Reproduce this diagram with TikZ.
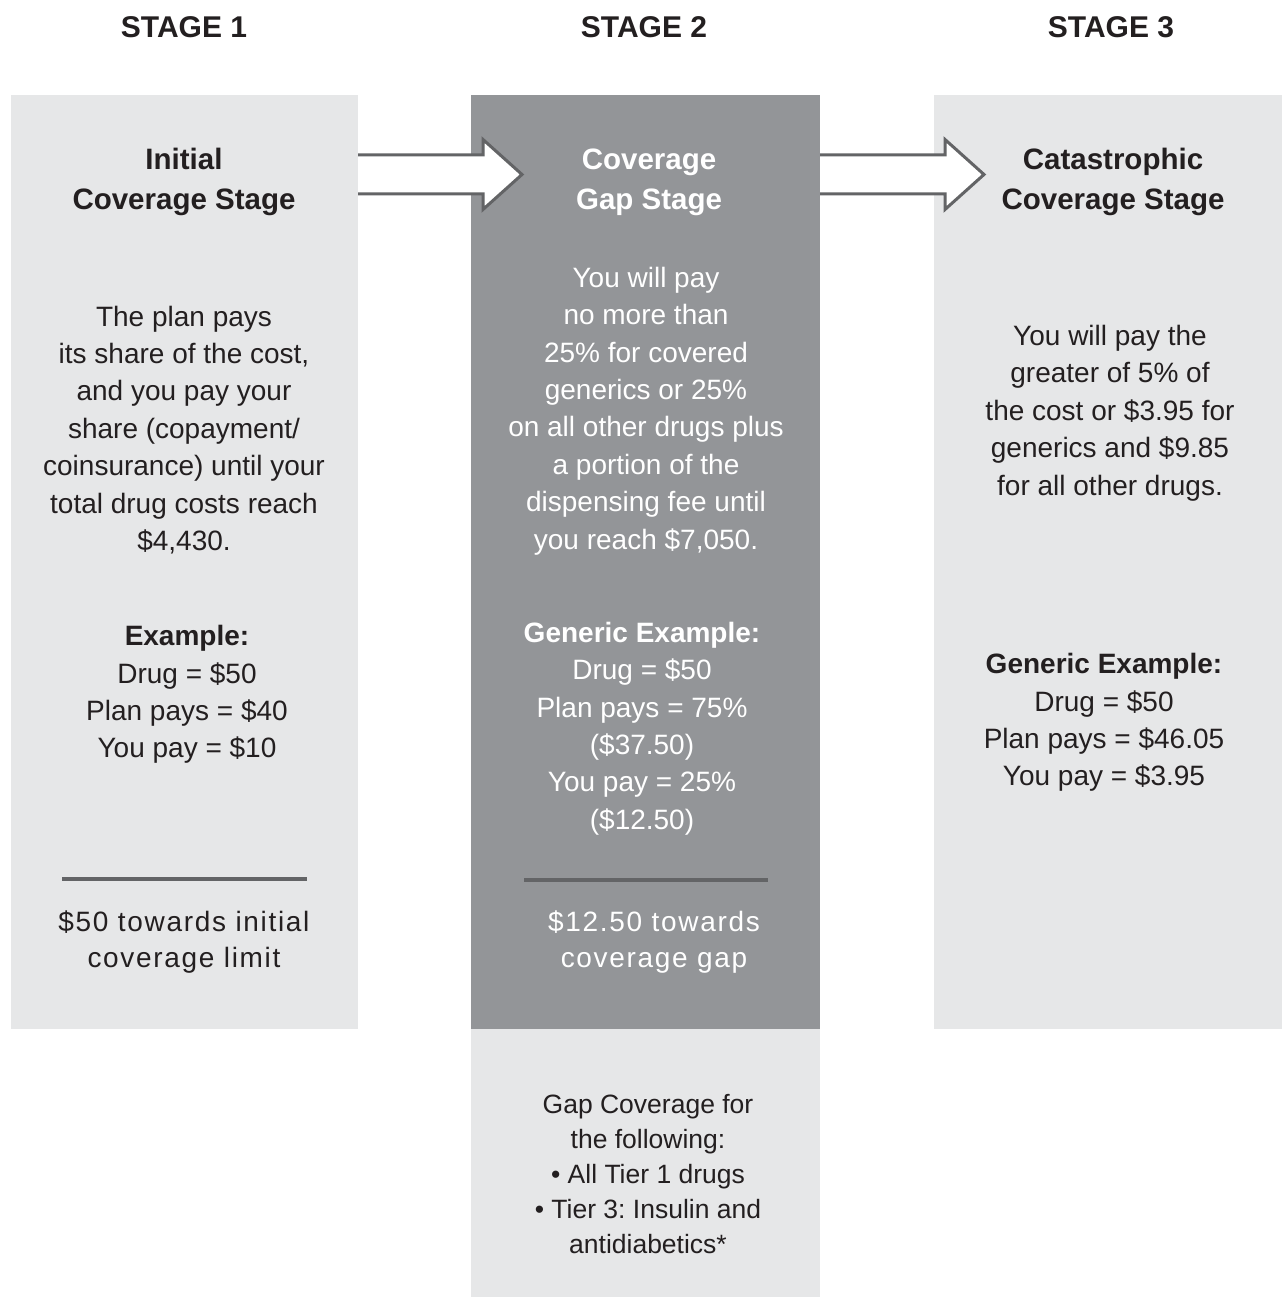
\documentclass[tikz,border=0pt]{standalone}
\usepackage{fontspec}
\setmainfont{Liberation Sans}
\usepackage{xcolor}
\usetikzlibrary{calc}
\frenchspacing

\definecolor{boxlight}{HTML}{E6E7E8}
\definecolor{boxdark}{HTML}{939598}
\definecolor{linegray}{HTML}{636466}
\definecolor{inkgray}{HTML}{231F20}

\begin{document}
\begin{tikzpicture}[x=1pt,y=-1pt,
		stagebox/.style={rectangle,inner sep=0pt,outer sep=0pt,draw=none},
		head/.style={text=inkgray,font=\bfseries\fontsize{30}{36}\selectfont},
		title/.style={align=center,font=\bfseries\fontsize{29.5}{40}\selectfont},
		body/.style={align=center,font=\fontsize{28}{37.4}\selectfont},
		spaced/.style={align=center,font=\fontsize{28}{35.5}\selectfont\addfontfeatures{LetterSpace=6}},
		blockarrow/.style={draw=linegray,line width=3pt,fill=white,line join=miter}]
			\useasboundingbox (0,0) rectangle (1283,1297);

			% the three stage columns
			\node[stagebox,fill=boxlight,minimum width=347pt,minimum height=934pt] (s1) at (184.5,562) {};
			\node[stagebox,fill=boxdark,minimum width=349pt,minimum height=934pt] (s2) at (645.5,562) {};
			\node[stagebox,fill=boxlight,minimum width=349pt,minimum height=268pt] (gap) at (645.5,1163) {};
			\node[stagebox,fill=boxlight,minimum width=348pt,minimum height=934pt] (s3) at (1108,562) {};

			% arrows between the columns
			\foreach \a in {s1,s2}
			{
				\coordinate (p) at ($(\a.north east)+(0,79.5)$);
				\draw[blockarrow] (p) +(0,-19.5) -- +(125,-19.5) -- +(125,-35) -- +(164,0)
					-- +(125,35) -- +(125,19.5) -- +(0,19.5);
			}

			\node[head] (h1) at (184,27) {STAGE 1};
			\node[head] (h2) at (644,27) {STAGE 2};
			\node[head] (h3) at (1111,27) {STAGE 3};

			% stage 1
			\begin{scope}[text=inkgray]
				\node[title] (t1) at (184,182) {Initial\\Coverage Stage};
				\node[body] (b1) at (184,430) {The plan pays\\its share of the cost,\\and you pay your\\share (copayment/\\coinsurance) until your\\total drug costs reach\\\$4,430.};
				\node[body] (e1) at (187,694.5) {\textbf{Example:}\\Drug = \$50\\Plan pays = \$40\\You pay = \$10};
				\node[spaced] (l1) at (184,942) {\$50 towards initial\\coverage limit};
			\end{scope}
			\draw[linegray,line width=4pt] (62,879) -- (307,879);

			% stage 2
			\begin{scope}[text=white]
				\node[title] (t2) at (649,182) {Coverage\\Gap Stage};
				\node[body] (b2) at (646,411) {You will pay\\no more than\\25\% for covered\\generics or 25\%\\on all other drugs plus\\a portion of the\\dispensing fee until\\you reach \$7,050.};
				\node[body] (e2) at (642,728.5) {\textbf{Generic Example:}\\Drug = \$50\\Plan pays = 75\%\\(\$37.50)\\You pay = 25\%\\(\$12.50)};
				\node[spaced] (l2) at (654,942) {\$12.50 towards\\coverage gap};
			\end{scope}
			\draw[linegray,line width=4pt] (524,880) -- (768,880);
			\node[body,text=inkgray,font=\fontsize{26.5}{35}\selectfont] (g2) at (648,1174)
				{Gap Coverage for\\the following:\\\textbullet{} All Tier 1 drugs\\\textbullet{} Tier 3: Insulin and\\antidiabetics*};

			% stage 3
			\begin{scope}[text=inkgray]
				\node[title] (t3) at (1113,182) {Catastrophic\\Coverage Stage};
				\node[body] (b3) at (1110,413) {You will pay the\\greater of 5\% of\\the cost or \$3.95 for\\generics and \$9.85\\for all other drugs.};
				\node[body] (e3) at (1104,722.5) {\textbf{Generic Example:}\\Drug = \$50\\Plan pays = \$46.05\\You pay = \$3.95};
			\end{scope}
		\end{tikzpicture}
\end{document}
